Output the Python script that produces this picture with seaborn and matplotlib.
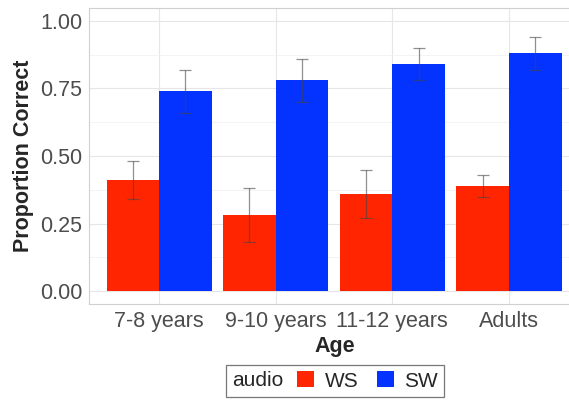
import matplotlib
matplotlib.use("Agg")
import matplotlib.pyplot as plt
import seaborn as sns
import pandas as pd
import numpy as np
from matplotlib.patches import Patch
from matplotlib.offsetbox import HPacker

ages = ["7-8 years", "9-10 years", "11-12 years", "Adults"]
audio_levels = ["WS", "SW"]
ws_mean = [0.41, 0.28, 0.36, 0.39]
ws_lo = [0.34, 0.18, 0.27, 0.35]
ws_hi = [0.48, 0.38, 0.45, 0.43]
sw_mean = [0.74, 0.78, 0.84, 0.88]
sw_lo = [0.66, 0.70, 0.78, 0.82]
sw_hi = [0.82, 0.86, 0.90, 0.94]
yticks = [0.00, 0.25, 0.50, 0.75, 1.00]
colors = {"WS": "#FF2500", "SW": "#0433FF"}

df = pd.DataFrame({
    "Age": ages * 2,
    "audio": ["WS"] * 4 + ["SW"] * 4,
    "prop": ws_mean + sw_mean,
    "lo": ws_lo + sw_lo,
    "hi": ws_hi + sw_hi,
})

sns.set_theme(style="white")
plt.rcParams["font.family"] = ["Liberation Sans", "DejaVu Sans"]

fig = plt.figure(figsize=(5.69, 4.05), dpi=100)
ax = fig.add_axes([89 / 569, 1 - 304 / 405, (579 - 89) / 569, (304 - 8) / 405])

sns.barplot(data=df, x="Age", y="prop", hue="audio", order=ages,
            hue_order=audio_levels, palette=colors, saturation=1,
            width=0.9, errorbar=None, ax=ax, legend=False, zorder=2,
            linewidth=0)

for cont, lvl in zip(ax.containers, audio_levels):
    sub = df[df["audio"] == lvl].set_index("Age").loc[ages]
    xs = [b.get_x() + b.get_width() / 2 for b in cont]
    ax.errorbar(xs, sub["prop"], yerr=[sub["prop"] - sub["lo"], sub["hi"] - sub["prop"]],
                fmt="none", ecolor="#444444", alpha=0.6, elinewidth=0.9,
                capsize=4.3, capthick=0.9, zorder=3)

ax.set_xlim(-0.6, 3.6)
ax.set_ylim(-0.048, 1.048)
ax.set_yticks(yticks)
ax.set_yticklabels([f"{v:.2f}" for v in yticks])
ax.set_yticks([0.125, 0.375, 0.625, 0.875], minor=True)
ax.grid(True, which="major", color="#E6E6E6", linewidth=0.8, zorder=0)
ax.grid(True, which="minor", axis="y", color="#F0F0F0", linewidth=0.5, zorder=0)
ax.set_axisbelow(True)
for s in ax.spines.values():
    s.set_color("#D0D0D0")
    s.set_linewidth(0.8)
ax.tick_params(axis="both", which="major", labelsize=15.5, labelcolor="#4D4D4D",
               length=3, color="#C8C8C8", width=0.6, pad=2)
ax.tick_params(axis="both", which="minor", length=0)
ax.set_xlabel("Age", fontsize=15.5, fontweight="bold")
ax.set_ylabel("Proportion Correct", fontsize=15.5, fontweight="bold", labelpad=4)
ax.xaxis.set_label_coords((335 - 89) / (579 - 89), -(336 - 304) / (304 - 8))

handles = [Patch(facecolor=colors[l], edgecolor="none") for l in audio_levels]
leg = fig.legend(handles, audio_levels, title="audio", ncol=2, loc="center",
                 bbox_to_anchor=(335 / 569, 1 - 381 / 405), fontsize=15,
                 title_fontsize=15, frameon=True, fancybox=False,
                 handlelength=0.8, handleheight=0.8, handletextpad=0.5,
                 columnspacing=0.9, borderpad=0.3)
leg.get_frame().set_edgecolor("#555555")
leg.get_frame().set_linewidth(0.9)
old = leg._legend_box
newbox = HPacker(pad=old.pad, sep=10, align="center",
                 children=[leg._legend_title_box, leg._legend_handle_box])
newbox.set_figure(fig)
newbox.axes = leg.axes
newbox.set_offset(leg._findoffset)
leg._legend_box = newbox

fig.savefig("out.png", dpi=100)
